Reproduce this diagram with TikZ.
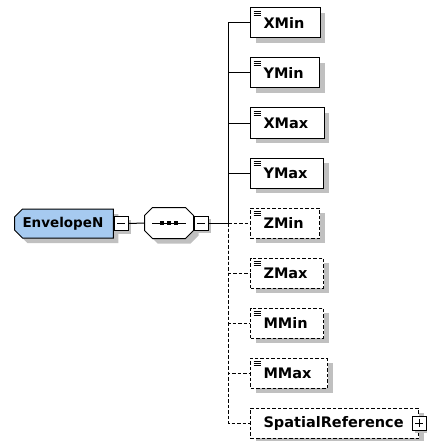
\documentclass[tikz,border=0pt]{standalone}
\usepackage{fontspec}
\setmainfont{DejaVu Sans}
\usetikzlibrary{shapes.misc,shadows,calc}
\definecolor{envblue}{RGB}{166,202,240}
\definecolor{shadowgray}{RGB}{192,192,192}
\begin{document}
\begin{tikzpicture}[x=1pt,y=-1pt, line width=1pt,
  shadowed/.style={drop shadow={shadow xshift=5pt,shadow yshift=-5pt,opacity=1,fill=shadowgray}},
  smallshadow/.style={drop shadow={shadow xshift=3pt,shadow yshift=-3pt,opacity=1,fill=shadowgray}},
  lbl/.style={font=\fontsize{14.5}{16}\selectfont\bfseries},
  elbase/.style={draw, fill=white, shadowed, lbl, minimum height=30pt, inner ysep=0pt, inner xsep=0pt, anchor=west},
  elem/.style={elbase,
    execute at begin node={\hspace*{13pt}}, execute at end node={\hspace*{16pt}},
    path picture={
      \foreach \d in {3,5,7}{
        \draw[solid, line width=0.9pt] ([xshift=3pt,yshift=-\d pt]path picture bounding box.north west) -- ++(7,0);}
    }},
  optional/.style={dash pattern=on 3.5pt off 2pt},
  envbox/.style={chamfered rectangle, chamfered rectangle corners={north west,south west},
    chamfered rectangle xsep=4pt, chamfered rectangle ysep=4pt,
    draw, fill=envblue, shadowed, font=\fontsize{13.5}{16}\selectfont\bfseries,
    minimum height=29pt, inner ysep=0pt, inner xsep=0pt, anchor=west,
    execute at begin node={\hspace*{4pt}}, execute at end node={\hspace*{6pt}}},
  seqbox/.style={minimum width=48pt, minimum height=30pt, inner sep=0pt},
  octagon/.style={draw, fill=white, shadowed},
  minusbox/.style={draw, fill=white, minimum size=14pt, inner sep=0pt, smallshadow,
    path picture={\draw ([xshift=3pt]path picture bounding box.west) -- ([xshift=-3pt]path picture bounding box.east);}},
  plusbox/.style={draw, fill=white, minimum size=14pt, inner sep=0pt, smallshadow,
    path picture={\draw ([xshift=3pt]path picture bounding box.west) -- ([xshift=-3pt]path picture bounding box.east);
                  \draw ([yshift=-3pt]path picture bounding box.north) -- ([yshift=3pt]path picture bounding box.south);}}
]
\useasboundingbox (0,0) rectangle (427,441);

% root element
\node[envbox] (env) at (14,223.5) {EnvelopeN};
\node[minusbox, anchor=west] (em) at (env.east) {};

% sequence compositor
\node[seqbox] (seq) at (169,223) {};
\draw[octagon] ($(seq.north west)+(8,0)$) -- ($(seq.north east)+(-8,0)$) -- ($(seq.north east)+(0,8)$)
  -- ($(seq.south east)+(0,-8)$) -- ($(seq.south east)+(-8,0)$) -- ($(seq.south west)+(8,0)$)
  -- ($(seq.south west)+(0,-8)$) -- ($(seq.north west)+(0,8)$) -- cycle;
\node[minusbox, anchor=west] (sm) at (seq.east) {};
\draw (seq.center) +(-17,0) -- +(17,0);
\foreach \dx in {-7,0,7}{
  \fill (seq.center) ++(\dx-2,-2) rectangle ++(4,4);
}

% child elements
\node[elem] (xmin) at (250,23) {XMin};
\node[elem] (ymin) at (250,73) {YMin};
\node[elem] (xmax) at (250,123) {XMax};
\node[elem] (ymax) at (250,173) {YMax};
\node[elem, optional] (zmin) at (250,223) {ZMin};
\node[elem, optional] (zmax) at (250,273) {ZMax};
\node[elem, optional] (mmin) at (250,323) {MMin};
\node[elem, optional] (mmax) at (250,373) {MMax};
\node[elbase, optional, execute at begin node={\hspace*{13pt}}, execute at end node={\hspace*{15pt}}] (sr) at (250,423) {SpatialReference};
\node[plusbox] (srp) at (sr.east) {};

% connectors
\coordinate (j) at (228,223);
\draw (em.east) -- (seq.west);
\draw (sm.east) -- (j);
\foreach \n in {xmin,ymin,xmax,ymax}{ \draw (j) |- (\n.west); }
\foreach \n in {zmin,zmax,mmin,mmax,sr}{ \draw[optional] (j) |- (\n.west); }
\end{tikzpicture}
\end{document}
